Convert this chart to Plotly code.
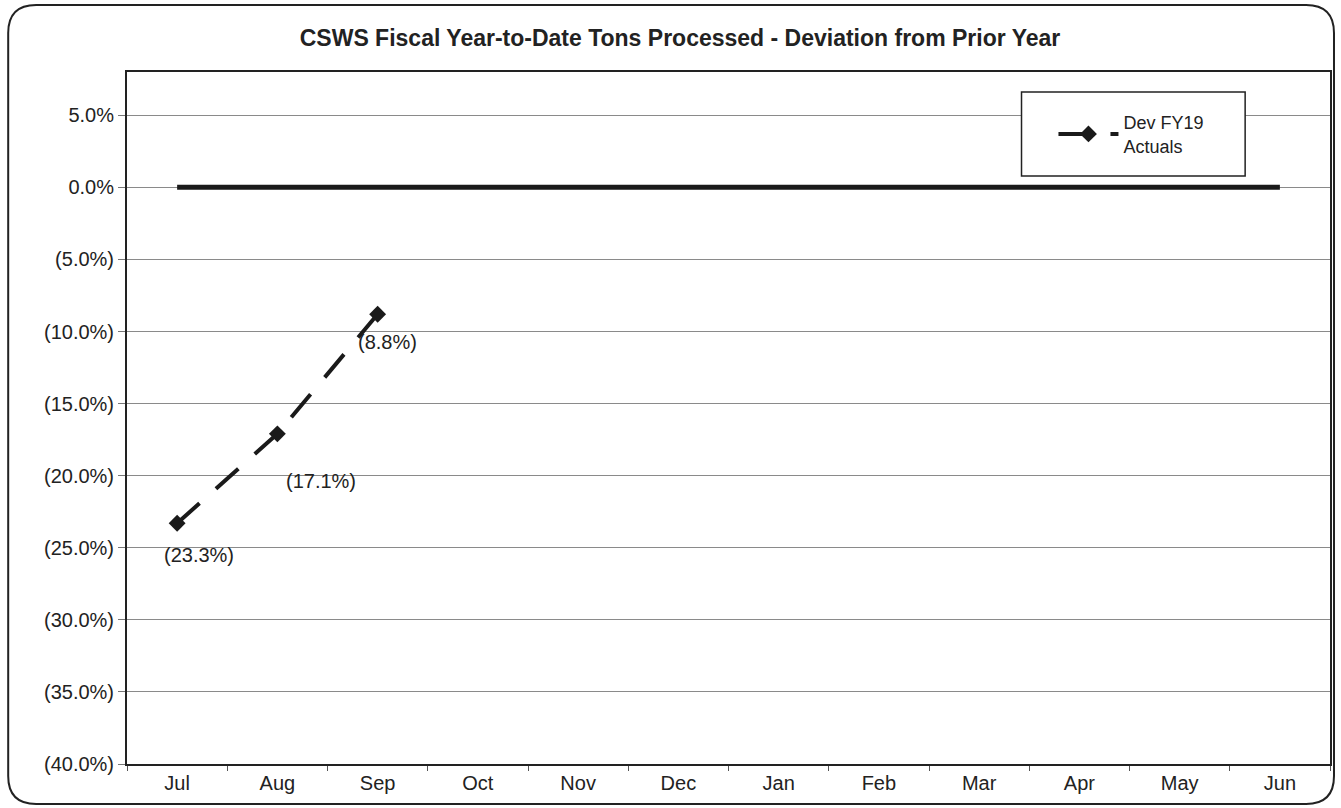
import plotly.graph_objects as go

months = ["Jul", "Aug", "Sep", "Oct", "Nov", "Dec", "Jan", "Feb", "Mar", "Apr", "May", "Jun"]
dev_fy19 = [-23.3, -17.1, -8.8, None, None, None, None, None, None, None, None, None]
zero_line = [0.0] * 12
label_texts = ["(23.3%)", "(17.1%)", "(8.8%)"]
y_tickvals = [5, 0, -5, -10, -15, -20, -25, -30, -35, -40]
y_ticktext = ["5.0%", "0.0%", "(5.0%)", "(10.0%)", "(15.0%)", "(20.0%)", "(25.0%)",
              "(30.0%)", "(35.0%)", "(40.0%)"]

W, H = 1341, 808
L, R, T, B = 127, 9, 72, 44
PW, PH = W - L - R, H - T - B


def px(x):
    return (x - L) / PW


def py(y):
    return (H - B - y) / PH


FONT = "Liberation Sans, Arial, sans-serif"

fig = go.Figure()

fig.add_trace(go.Scatter(
    x=months, y=zero_line, mode="lines",
    line=dict(color="#1a1a1a", width=5),
    showlegend=False, hoverinfo="skip"))

fig.add_trace(go.Scatter(
    x=months, y=dev_fy19, mode="lines+markers",
    name="Dev FY19<br>Actuals",
    line=dict(color="#1a1a1a", width=4, dash="30px,22px"),
    marker=dict(symbol="diamond", size=13, color="#1a1a1a"),
    connectgaps=False))

shifts = [(22, -32), (44, -47), (10, -28)]
for i, t in enumerate(label_texts):
    fig.add_annotation(x=months[i], y=dev_fy19[i], text=t, showarrow=False,
                       xshift=shifts[i][0], yshift=shifts[i][1],
                       font=dict(family=FONT, size=20, color="#222"))

# legend box
fig.add_shape(type="rect", xref="paper", yref="paper",
              x0=px(1023), x1=px(1247), y0=py(176), y1=py(92),
              line=dict(color="#222", width=1.5), fillcolor="white", layer="above")

# outer rounded border
x0, x1, y0, y1 = px(8), px(1336), py(804), py(5)
rx, ry = 28 / PW, 28 / PH
path = (f"M {x0+rx},{y1} L {x1-rx},{y1} Q {x1},{y1} {x1},{y1-ry} "
        f"L {x1},{y0+ry} Q {x1},{y0} {x1-rx},{y0} L {x0+rx},{y0} "
        f"Q {x0},{y0} {x0},{y0+ry} L {x0},{y1-ry} Q {x0},{y1} {x0+rx},{y1} Z")
fig.add_shape(type="path", xref="paper", yref="paper", path=path,
              line=dict(color="#222", width=2))

fig.update_layout(
    width=W, height=H,
    margin=dict(l=L, r=R, t=T, b=B),
    paper_bgcolor="white", plot_bgcolor="white",
    font=dict(family=FONT, color="#222"),
    title=dict(text="<b>CSWS Fiscal Year-to-Date Tons Processed - Deviation from Prior Year</b>",
               x=680 / W, xanchor="center", y=1 - 38 / H, yanchor="middle",
               font=dict(family=FONT, size=23, color="#222")),
    legend=dict(x=px(1055), y=py(104), xanchor="left", yanchor="top",
                bgcolor="rgba(0,0,0,0)", borderwidth=0, tracegroupgap=0,
                itemwidth=60,
                font=dict(family=FONT, size=18, color="#222")),
    xaxis=dict(type="category", categoryorder="array", categoryarray=months,
               range=[-0.5, 11.5], showgrid=False,
               showline=True, linecolor="#222", linewidth=2, mirror=True,
               ticks="outside", tickson="boundaries", ticklen=5, tickcolor="#555",
               tickfont=dict(family=FONT, size=20, color="#222")),
    yaxis=dict(range=[-40, 8], tickvals=y_tickvals, ticktext=y_ticktext,
               showgrid=True, gridcolor="#8a8a8a", gridwidth=1, zeroline=False,
               showline=True, linecolor="#222", linewidth=2, mirror=True,
               ticks="outside", ticklen=7, tickcolor="#777",
               tickfont=dict(family=FONT, size=20, color="#222")),
)

fig.write_html("out.html", config={"displayModeBar": False},
               post_script="document.body.style.margin='0';document.body.style.overflow='hidden';")
